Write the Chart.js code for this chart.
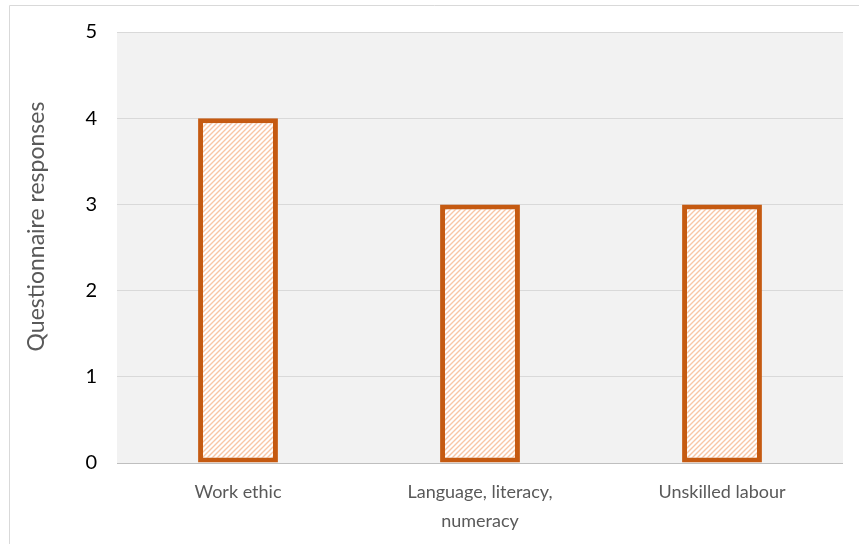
<!DOCTYPE html>
<html>
<head>
<meta charset="utf-8">
<script src="https://cdn.jsdelivr.net/npm/chart.js@4.4.0/dist/chart.umd.min.js"></script>
<style>
  body { margin: 0; background: #fff; }
  canvas { display: block; }
</style>
</head>
<body>
<canvas id="skillsChart" width="859" height="544"></canvas>
<script>
// Chart data
const categories = ["Work ethic", ["Language, literacy,", "numeracy"], "Unskilled labour"];
const responses = [4, 3, 3];
const yTicks = [0, 1, 2, 3, 4, 5];
const yTitle = "Questionnaire responses";

// Light orange diagonal hatch for the bar fill
function makeHatch() {
    const c = document.createElement("canvas");
    c.width = 5;
    c.height = 5;
    const g = c.getContext("2d");
    g.fillStyle = "#ffffff";
    g.fillRect(0, 0, 5, 5);
    g.strokeStyle = "#f8c6a6";
    g.lineWidth = 1.4;
    g.beginPath();
    g.moveTo(-1, 6); g.lineTo(6, -1);
    g.moveTo(-1, 1); g.lineTo(1, -1);
    g.moveTo(4, 6); g.lineTo(6, 4);
    g.stroke();
    return g.createPattern(c, "repeat");
}

// Grey plot background, thin outer frame and the y title (sits a bit above centre, like Excel)
const backdrop = {
    id: "backdrop",
    beforeDraw(chart) {
        const { ctx, chartArea } = chart;
        ctx.save();
        ctx.strokeStyle = "#d9d9d9";
        ctx.lineWidth = 1;
        ctx.beginPath();
        ctx.moveTo(9.5, 544);
        ctx.lineTo(9.5, 5.5);
        ctx.lineTo(859, 5.5);
        ctx.stroke();
        ctx.fillStyle = "#f2f2f2";
        ctx.fillRect(chartArea.left, chartArea.top, chartArea.right - chartArea.left, chartArea.bottom - chartArea.top);
        ctx.restore();
    },
    afterDraw(chart) {
        const { ctx, chartArea } = chart;
        ctx.save();
        ctx.translate(chartArea.left - 80, (chartArea.top + chartArea.bottom) / 2 - 21);
        ctx.rotate(-Math.PI / 2);
        ctx.fillStyle = "#595959";
        ctx.font = "23px Lato";
        ctx.textAlign = "center";
        ctx.textBaseline = "middle";
        ctx.fillText(yTitle, 0, 0);
        ctx.restore();
    }
};

const ctx = document.getElementById("skillsChart").getContext("2d");
new Chart(ctx, {
    type: 'bar',
    data: {
        labels: categories,
        datasets: [{
            label: yTitle,
            data: responses,
            backgroundColor: makeHatch(),
            borderColor: '#c55a11',
            borderWidth: 5,
            borderSkipped: false,
            barPercentage: 0.33,
            categoryPercentage: 1
        }]
    },
    options: {
        responsive: false,
        animation: false,
        layout: {
            padding: { left: 22, top: 24, right: 16, bottom: 2 }
        },
        plugins: {
            legend: { display: false },
            tooltip: { enabled: false }
        },
        scales: {
            x: {
                afterFit: axis => { axis.height = 79; },
                grid: { display: false },
                border: { display: false },
                ticks: {
                    color: '#595959',
                    font: { family: 'Lato', size: 18, lineHeight: 1.65 },
                    padding: 6,
                    maxRotation: 0
                }
            },
            y: {
                min: 0,
                max: 5,
                afterFit: axis => { axis.width = 95; },
                afterBuildTicks: axis => {
                    axis.ticks = yTicks.map(v => ({ value: v }));
                },
                grid: {
                    color: ctx => ctx.tick.value === 0 ? '#bfbfbf' : '#d9d9d9',
                    drawTicks: false
                },
                border: { display: false },
                ticks: {
                    color: '#000000',
                    font: { family: 'Lato', size: 20 },
                    padding: 20
                }
            }
        }
    },
    plugins: [backdrop]
});
</script>
</body>
</html>
